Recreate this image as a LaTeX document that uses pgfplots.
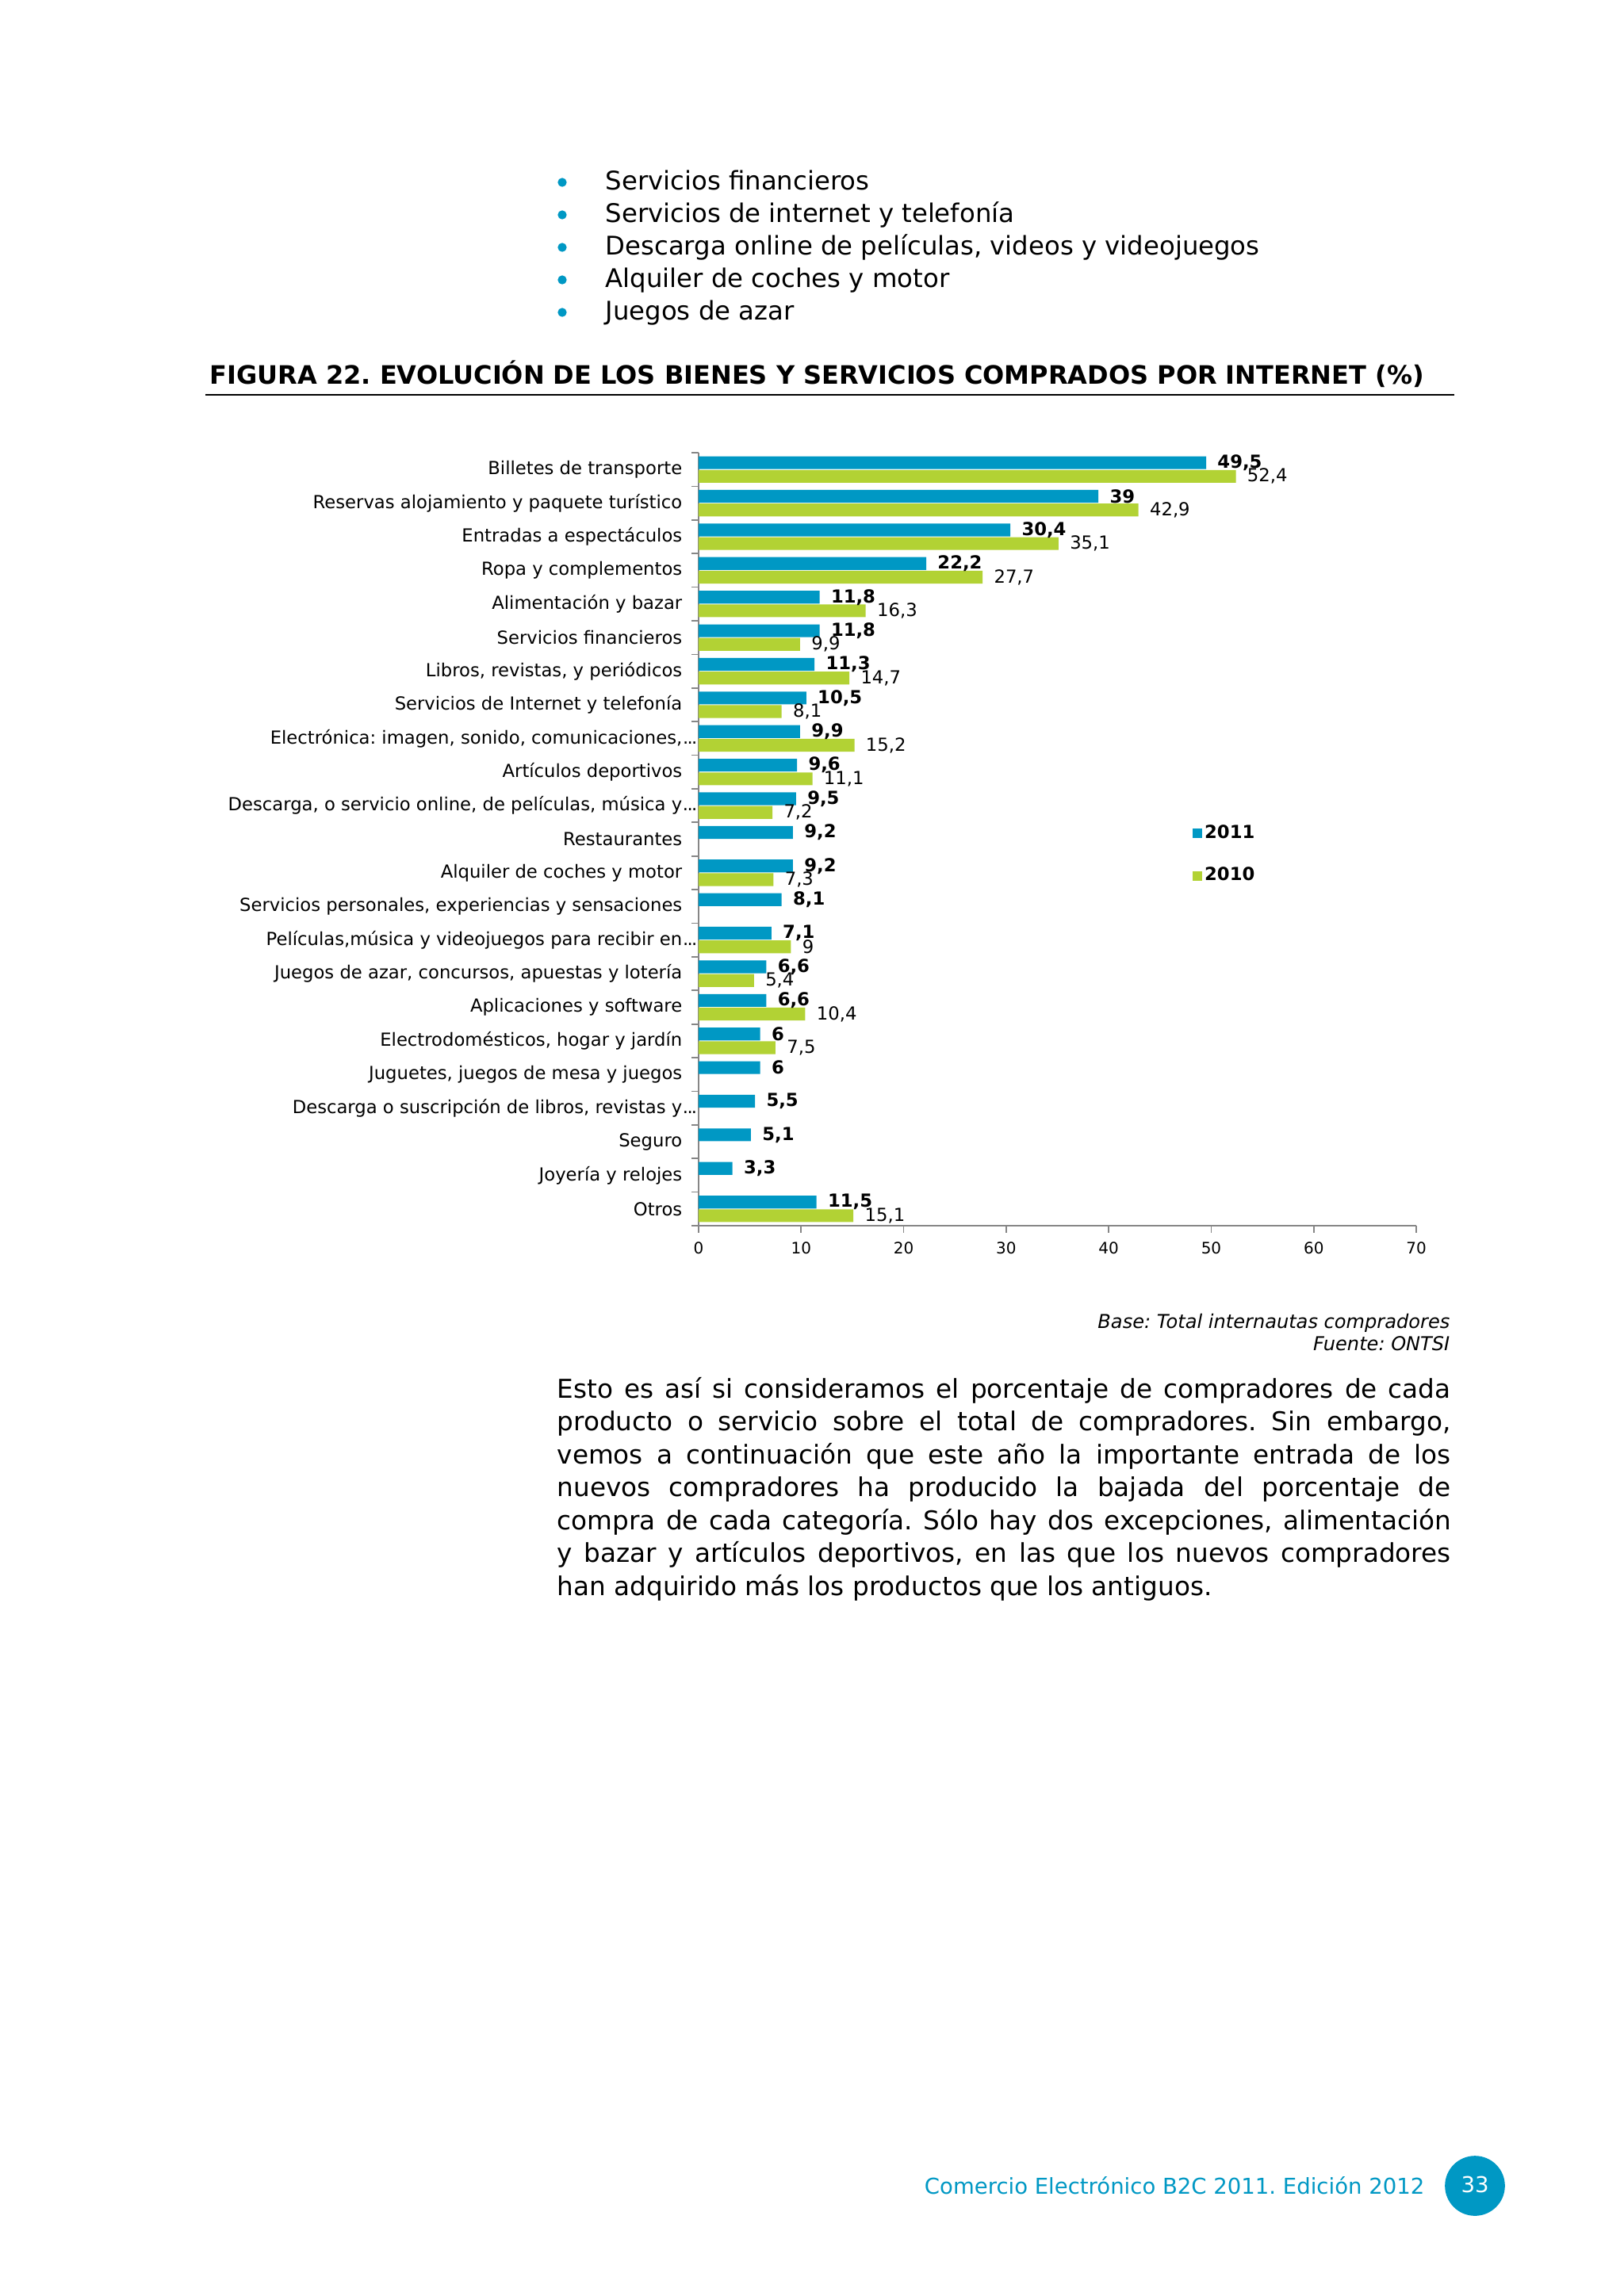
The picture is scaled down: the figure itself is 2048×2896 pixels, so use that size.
\documentclass[border=0pt]{standalone}
\usepackage{pgfplots}
\pgfplotsset{compat=1.18}
\usepackage{fontspec}
\setmainfont{DejaVu Sans}
\frenchspacing
\definecolor{cblue}{RGB}{0,152,196}
\definecolor{cgreen}{RGB}{178,210,52}
\definecolor{axgray}{RGB}{134,134,134}
\newcommand{\fs}[2]{\fontsize{#1}{#2}\selectfont}
\newcommand{\ellp}{\rlap{\kern0.2pt.\kern-0.5pt.\kern-0.5pt.}}
\begin{document}
\begin{tikzpicture}[x=0.2907pt,y=-0.2907pt]
\useasboundingbox (0,0) rectangle (2048,2896);
\fill[white] (0,0) rectangle (2048,2896);
% bullet list
\foreach \yy in {230,271,312,353,394} {\fill[cblue] (709,\yy) circle[radius=1.65pt];}
\node[anchor=base west, inner sep=0, font=\fs{9.4}{11}] at (763,239) {Servicios financieros};
\node[anchor=base west, inner sep=0, font=\fs{9.4}{11}] at (763,280) {Servicios de internet y telefonía};
\node[anchor=base west, inner sep=0, font=\fs{9.4}{11}] at (763,321) {Descarga online de películas, videos y videojuegos};
\node[anchor=base west, inner sep=0, font=\fs{9.4}{11}] at (763,362) {Alquiler de coches y motor};
\node[anchor=base west, inner sep=0, font=\fs{9.4}{11}] at (763,403) {Juegos de azar};
% title
\node[anchor=base west, inner sep=0, font=\bfseries\fs{9.3}{10}] at (264,484) {FIGURA 22. EVOLUCIÓN DE LOS BIENES Y SERVICIOS COMPRADOS POR INTERNET (\%)};
\draw[line width=0.8pt] (259,498) -- (1834,498);
% chart
\begin{axis}[
  at={(256.1pt,-449.4pt)}, anchor=south west,
  scale only axis, width=263.1pt, height=283.4pt,
  xbar, bar width=4.7pt,
  xmin=0, xmax=70, ymin=-0.5, ymax=22.5,
  axis x line*=bottom, axis y line*=left,
  axis line style={axgray, line width=0.6pt},
  tick style={axgray, line width=0.5pt},
  tick align=outside,
  major tick length=2.5pt, minor tick length=2.5pt,
  xtick={0,10,...,70},
  ytick={0,...,22},
  minor ytick={-0.5,0.5,...,22.5},
  major y tick style={draw=none},
  yticklabels={{Otros},{Joyería y relojes},{Seguro},{Descarga o suscripción de libros, revistas y\ellp},{Juguetes, juegos de mesa y juegos},{Electrodomésticos, hogar y jardín},{Aplicaciones y software},{Juegos de azar, concursos, apuestas y lotería},{Películas,música y videojuegos para recibir en\ellp},{Servicios personales, experiencias y sensaciones},{Alquiler de coches y motor},{Restaurantes},{Descarga, o servicio online, de películas, música y\ellp},{Artículos deportivos},{Electrónica: imagen, sonido, comunicaciones,\ellp},{Servicios de Internet y telefonía},{Libros, revistas, y periódicos},{Servicios financieros},{Alimentación y bazar},{Ropa y complementos},{Entradas a espectáculos},{Reservas alojamiento y paquete turístico},{Billetes de transporte}},
  yticklabel style={font=\fs{6.6}{7}, text=black},
  xticklabel style={font=\fs{5.8}{7}, text=black},
  /pgf/number format/use comma,
  /pgf/number format/assume math mode=true,
  clip=false,
  legend style={at={(axis cs:48.16,11.53)}, anchor=north west, draw=none, fill=none, inner sep=0pt, row sep=7.2pt, font=\bfseries\fs{6.6}{7}, nodes={inner sep=1pt, anchor=west}},
  legend image code/.code={\fill[#1] (0pt,-1.8pt) rectangle (3.3pt,1.8pt);},
]
\addplot[fill=cblue, draw=none, bar shift=2.5pt, nodes near coords,
  nodes near coords style={font=\bfseries\fs{6.6}{7}, anchor=west, inner sep=0.5pt, xshift=3.5pt, text=black}]
  coordinates {(49.5,22) (39,21) (30.4,20) (22.2,19) (11.8,18) (11.8,17) (11.3,16) (10.5,15) (9.9,14) (9.6,13) (9.5,12) (9.2,11) (9.2,10) (8.1,9) (7.1,8) (6.6,7) (6.6,6) (6,5) (6,4) (5.5,3) (5.1,2) (3.3,1) (11.5,0)};
\addlegendentry{2011}
\addplot[fill=cgreen, draw=none, bar shift=-2.5pt, nodes near coords,
  nodes near coords style={font=\fs{6.6}{7}, anchor=west, inner sep=0.5pt, xshift=3.5pt, text=black}]
  coordinates {(52.4,22) (42.9,21) (35.1,20) (27.7,19) (16.3,18) (9.9,17) (14.7,16) (8.1,15) (15.2,14) (11.1,13) (7.2,12) (7.3,10) (9,8) (5.4,7) (10.4,6) (7.5,5) (15.1,0)};
\addlegendentry{2010}
\end{axis}
% source
\node[anchor=base east, inner sep=0, font=\itshape\fs{7}{8}] at (1829,1675) {Base: Total internautas compradores};
\node[anchor=base east, inner sep=0, font=\itshape\fs{7}{8}] at (1829,1703) {Fuente: ONTSI};
% paragraph
\foreach \ln [count=\i from 0] in {%
  {Esto es así si consideramos el porcentaje de compradores de cada},
  {producto o servicio sobre el total de compradores. Sin embargo,},
  {vemos a continuación que este año la importante entrada de los},
  {nuevos compradores ha producido la bajada del porcentaje de},
  {compra de cada categoría. Sólo hay dos excepciones, alimentación},
  {y bazar y artículos deportivos, en las que los nuevos compradores}} {
  \node[anchor=base west, inner sep=0, font=\fs{9.5}{12}] at (702,{1763+41.55*\i}) {\makebox[327.6pt][s]{\ln}};
}
\node[anchor=base west, inner sep=0, font=\fs{9.5}{12}] at (702,{1763+41.55*6}) {han adquirido más los productos que los antiguos.};
% footer
\node[anchor=base east, inner sep=0, font=\fs{8}{10}, text=cblue] at (1797,2767) {Comercio Electrónico B2C 2011. Edición 2012};
\fill[cblue] (1860,2757) circle[radius=11pt];
\node[font=\fs{8}{10}, text=white] at (1860,2755) {33};
\end{tikzpicture}
\end{document}
